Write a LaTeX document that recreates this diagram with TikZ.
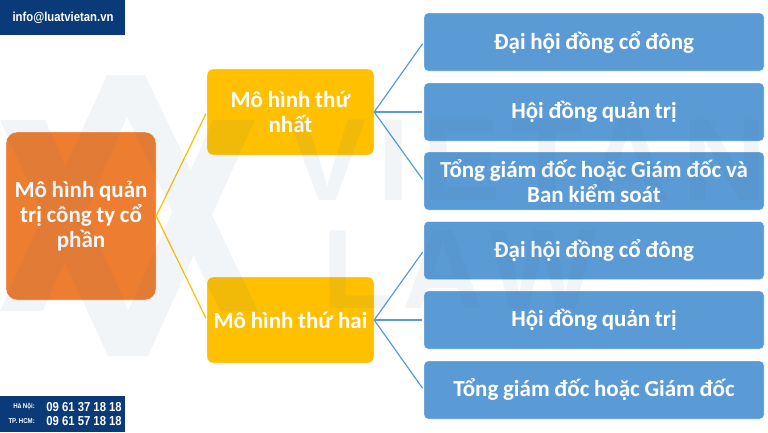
\documentclass[tikz,border=0pt]{standalone}
\usepackage{fontspec}
\setmainfont[WordSpace=0.9]{Carlito}
\newfontfamily\narrowfont[FakeStretch=0.87]{Liberation Sans}
\newfontfamily\markfont[LetterSpace=10]{Liberation Sans}
\definecolor{navy}{HTML}{0A3A78}
\definecolor{orangebox}{HTML}{ED7D31}
\definecolor{yellowbox}{HTML}{FFC000}
\definecolor{bluebox}{HTML}{5B9BD5}
\definecolor{wm}{HTML}{2F5F8F}
\tikzset{
  boxbase/.style={draw=white,line width=0.4pt,align=center,text=white,font=\bfseries\fontsize{23}{25}\selectfont,inner sep=0pt},
  rootbox/.style={boxbase,fill=orangebox,rounded corners=11pt,minimum width=150pt,minimum height=168pt},
  midbox/.style={boxbase,fill=yellowbox,rounded corners=6pt,minimum width=167pt,minimum height=86pt},
  leafbox/.style={boxbase,fill=bluebox,rounded corners=4pt,minimum width=340pt,minimum height=58pt},
  yline/.style={draw=yellowbox,line width=1.2pt,shorten >=2pt},
  bline/.style={draw=bluebox,line width=1.2pt,shorten >=2pt},
  banner/.style={inner sep=0pt,text=white},
  markfill/.style={fill=wm,fill opacity=0.06},
  marktext/.style={text=wm,text opacity=0.06,anchor=west,inner sep=0pt}
}
\begin{document}
\begin{tikzpicture}[x=1pt,y=-1pt]
\useasboundingbox (0,0) rectangle (768,432);
\fill[white] (0,0) rectangle (768,432);
\node[rootbox] (root) at (81,216) {Mô hình quản\\trị công ty cổ\\phần};
\node[midbox] (m1) at (290.5,112) {Mô hình thứ\\nhất};
\node[midbox] (m2) at (290.5,320) {Mô hình thứ hai};
\node[leafbox,text depth=2.5pt] (a1) at (594,42) {Đại hội đồng cổ đông};
\node[leafbox,text depth=3.5pt] (a2) at (594,112) {Hội đồng quản trị};
\node[leafbox] (a3) at (594,181) {Tổng giám đốc hoặc Giám đốc và\\Ban kiểm soát};
\node[leafbox,text depth=3.5pt] (b1) at (594,250.5) {Đại hội đồng cổ đông};
\node[leafbox] (b2) at (594,320) {Hội đồng quản trị};
\node[leafbox] (b3) at (594,390) {Tổng giám đốc hoặc Giám đốc};
\draw[yline] (root.east) -- (m1.west);
\draw[yline] (root.east) -- (m2.west);
\foreach \t in {a1,a2,a3} \draw[bline] (m1.east) -- (\t.west);
\foreach \t in {b1,b2,b3} \draw[bline] (m2.east) -- (\t.west);
\fill[markfill]
  (0,120) -- (45,120) -- (148,356) -- (108,356) -- cycle
  (107,75) -- (145,75) -- (43,311) -- (0,311) -- cycle
  (213,120) -- (255,120) -- (148,356) -- (108,356) -- cycle
  (107,75) -- (145,75) -- (258,311) -- (220,311) -- cycle;
\node[marktext,font=\markfont\bfseries\fontsize{117}{117}\selectfont] (wm1) at (288,160) {VIETAN};
\node[marktext,font=\markfont\bfseries\fontsize{113}{113}\selectfont] (wm2) at (322,270) {LAW};
\fill[navy] (0,0) rectangle (124.5,34.5);
\node[banner,font=\narrowfont\bfseries\fontsize{13}{15}\selectfont] (mail) at (63,17.5) {info@luatvietan.vn};
\fill[navy] (0,396) rectangle (124.5,432);
\node[banner,font=\narrowfont\bfseries\fontsize{7}{8}\selectfont,anchor=east] (hn) at (35,406.5) {Hà Nội:};
\node[banner,font=\narrowfont\bfseries\fontsize{7}{8}\selectfont,anchor=east] (hcm) at (35,421.5) {TP. HCM:};
\node[banner,font=\narrowfont\bfseries\fontsize{13}{15}\selectfont,anchor=east] (p1) at (122,407) {09 61 37 18 18};
\node[banner,font=\narrowfont\bfseries\fontsize{13}{15}\selectfont,anchor=east] (p2) at (122,421.5) {09 61 57 18 18};
\end{tikzpicture}
\end{document}
